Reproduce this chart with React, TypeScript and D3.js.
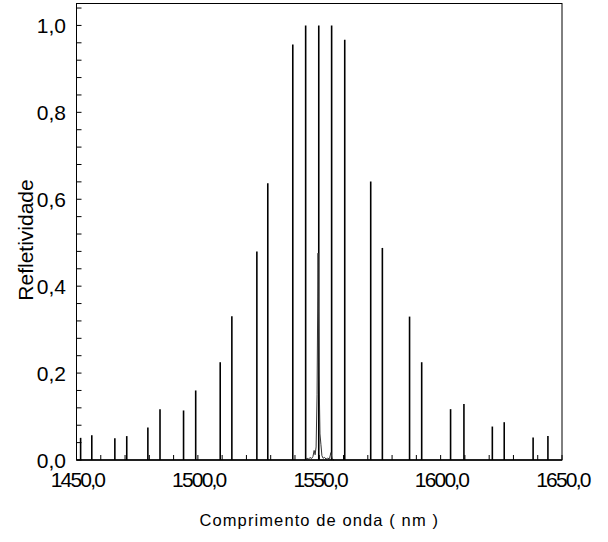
import React from "react";
import * as d3 from "d3";

const peakWavelength = [
  1451.7, 1456.3, 1465.8, 1470.7, 1479.4, 1484.4, 1494.1, 1499.1, 1509.2, 1514.0,
  1524.3, 1528.8, 1539.1, 1544.4, 1549.8, 1555.1, 1560.5, 1571.2, 1576.0, 1587.2,
  1592.2, 1604.1, 1609.6, 1621.3, 1626.2, 1638.1, 1644.2,
];
const peakReflectivity = [
  0.051, 0.057, 0.05, 0.055, 0.075, 0.117, 0.114, 0.16, 0.225, 0.331,
  0.48, 0.637, 0.956, 1.0, 1.0, 1.0, 0.967, 0.641, 0.488, 0.33,
  0.225, 0.117, 0.129, 0.077, 0.087, 0.052, 0.055,
];

const centralWavelength = [
  1544.0, 1545.0, 1545.6, 1546.2, 1546.8, 1547.4, 1547.9, 1548.3, 1548.7, 1549.1,
  1549.5, 1549.9, 1550.3, 1550.7, 1551.1, 1551.6, 1552.2, 1552.8, 1553.4, 1554.2,
  1554.8, 1555.3, 1556.0,
];
const centralReflectivity = [
  0, 0.004, 0.002, 0.006, 0.003, 0.008, 0.022, 0.012, 0.03, 0.15,
  0.476, 0.2, 0.06, 0.035, 0.01, 0.004, 0.006, 0.002, 0.004, 0.003,
  0.017, 0.003, 0,
];

const xMajorTicks = [1450, 1500, 1550, 1600, 1650];
const yMajorTicks = [0, 0.2, 0.4, 0.6, 0.8, 1.0];
const xTitle = "Comprimento de onda ( nm )";
const yTitle = "Refletividade";

const W = 608;
const H = 542;
const left = 76.5;
const right = 562;
const top = 3.5;
const bottom = 460;

export default function App() {
  const x = d3.scaleLinear().domain([1450, 1650]).range([left, right]);
  const y = d3.scaleLinear().domain([0, 1.05]).range([bottom, top + 0.2]);

  const xMinor = d3.range(1450, 1651, 10);
  const yMinor = d3.range(0, 1.041, 0.04);

  const fmt = (v: number) => v.toFixed(1).replace(".", ",");

  const central = centralWavelength.map((w, i) => [w, centralReflectivity[i]] as [number, number]);
  const line = d3
    .line<[number, number]>()
    .x((d) => x(d[0]))
    .y((d) => y(d[1]));

  const font = "'Liberation Sans', Arial, sans-serif";

  return (
    <svg
      width={W}
      height={H}
      style={{ position: "absolute", left: 0, top: 0, background: "#fff" }}
    >
      <rect x={0} y={0} width={W} height={H} fill="#fff" />
      {xMinor.map((t) => (
        <line key={"xm" + t} x1={x(t)} x2={x(t)} y1={bottom} y2={bottom - 5} stroke="#000" strokeWidth={1} />
      ))}
      {yMinor.map((t) => (
        <line key={"ym" + t} x1={left} x2={left + 5} y1={y(t)} y2={y(t)} stroke="#000" strokeWidth={1} />
      ))}
      {peakWavelength.map((w, i) => (
        <line
          key={"p" + i}
          x1={x(w)}
          x2={x(w)}
          y1={y(0)}
          y2={y(peakReflectivity[i])}
          stroke="#000"
          strokeWidth={1.6}
        />
      ))}
      <path d={line(central) || ""} fill="none" stroke="#333" strokeWidth={1} />
      <rect x={left} y={top} width={right - left} height={bottom - top} fill="none" stroke="#000" strokeWidth={1} />
      <line x1={left} x2={right} y1={bottom} y2={bottom} stroke="#000" strokeWidth={1.5} />
      {xMajorTicks.map((t) => (
        <text
          key={"xl" + t}
          x={x(t) + 0.9}
          y={487}
          textAnchor="middle"
          fontFamily={font}
          fontSize={21}
          letterSpacing={-1.8}
        >
          {fmt(t)}
        </text>
      ))}
      {yMajorTicks.map((t) => (
        <text
          key={"yl" + t}
          x={66}
          y={y(t)}
          dy="0.36em"
          textAnchor="end"
          fontFamily={font}
          fontSize={21}
        >
          {fmt(t)}
        </text>
      ))}
      <text
        x={(left + right) / 2}
        y={526}
        textAnchor="middle"
        fontFamily={font}
        fontSize={16.5}
        letterSpacing={1.1}
      >
        {xTitle}
      </text>
      <text
        transform={`translate(33, 240) rotate(-90)`}
        textAnchor="middle"
        fontFamily={font}
        fontSize={21}
      >
        {yTitle}
      </text>
    </svg>
  );
}
